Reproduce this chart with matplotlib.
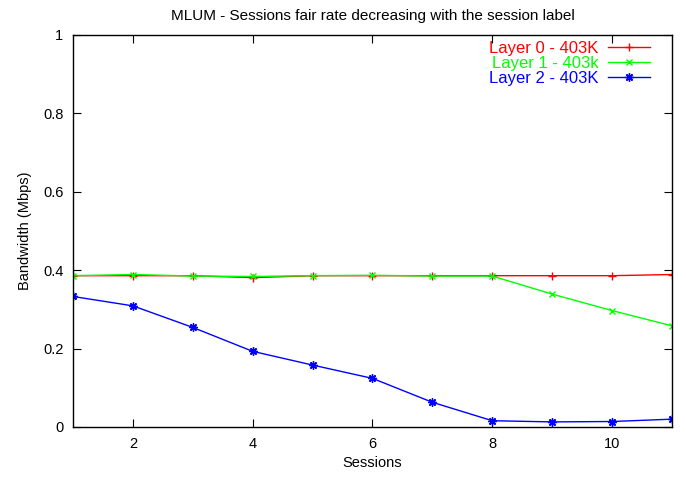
import numpy as np
import matplotlib
matplotlib.use('Agg')
import matplotlib.pyplot as plt

plt.rcParams['font.family'] = ['Liberation Sans', 'DejaVu Sans']

sessions = np.arange(1, 12)
layer0 = [0.386, 0.386, 0.386, 0.381, 0.386, 0.386, 0.386, 0.386, 0.386, 0.386, 0.389]
layer1 = [0.386, 0.389, 0.385, 0.384, 0.386, 0.387, 0.385, 0.385, 0.339, 0.297, 0.258]
layer2 = [0.333, 0.309, 0.254, 0.193, 0.158, 0.124, 0.063, 0.016, 0.013, 0.014, 0.020]

labels = ["Layer 0 - 403K", "Layer 1 - 403k", "Layer 2 - 403K"]
colors = ['#ff0000', '#00ff00', '#0000ff']

fig = plt.figure(figsize=(6.86, 4.78), dpi=100)
ax = fig.add_axes([0.1064, 0.1067, 0.8732, 0.8201])

ax.plot(sessions, layer0, color=colors[0], lw=1, marker='+', ms=6, mew=1, label=labels[0])
ax.plot(sessions, layer1, color=colors[1], lw=1, marker='x', ms=5, mew=1, label=labels[1])
ax.plot(sessions, layer2, color=colors[2], lw=1, marker=(8, 2, 0), ms=6, mew=1, label=labels[2])

ax.set_xlim(1, 11)
ax.set_ylim(0, 1)
ax.set_xticks([2, 4, 6, 8, 10])
ax.set_yticks([0, 0.2, 0.4, 0.6, 0.8, 1])
ax.set_yticklabels(['0', '0.2', '0.4', '0.6', '0.8', '1'])
ax.tick_params(direction='in', top=True, right=True, length=6, labelsize=10.5, pad=7)
for s in ax.spines.values():
    s.set_linewidth(1)

ax.set_title("MLUM - Sessions fair rate decreasing with the session label", fontsize=11, pad=11)
ax.set_xlabel("Sessions", fontsize=10.5, labelpad=4)
ax.set_ylabel("Bandwidth (Mbps)", fontsize=10.5, labelpad=8)

leg = ax.legend(loc='upper right', bbox_to_anchor=(0.963, 0.985), frameon=False,
                markerfirst=False, fontsize=12, handlelength=2.5, labelspacing=0.0,
                borderaxespad=0, borderpad=0, handletextpad=0.6, labelcolor=colors)

fig.savefig('out.png', dpi=100)
